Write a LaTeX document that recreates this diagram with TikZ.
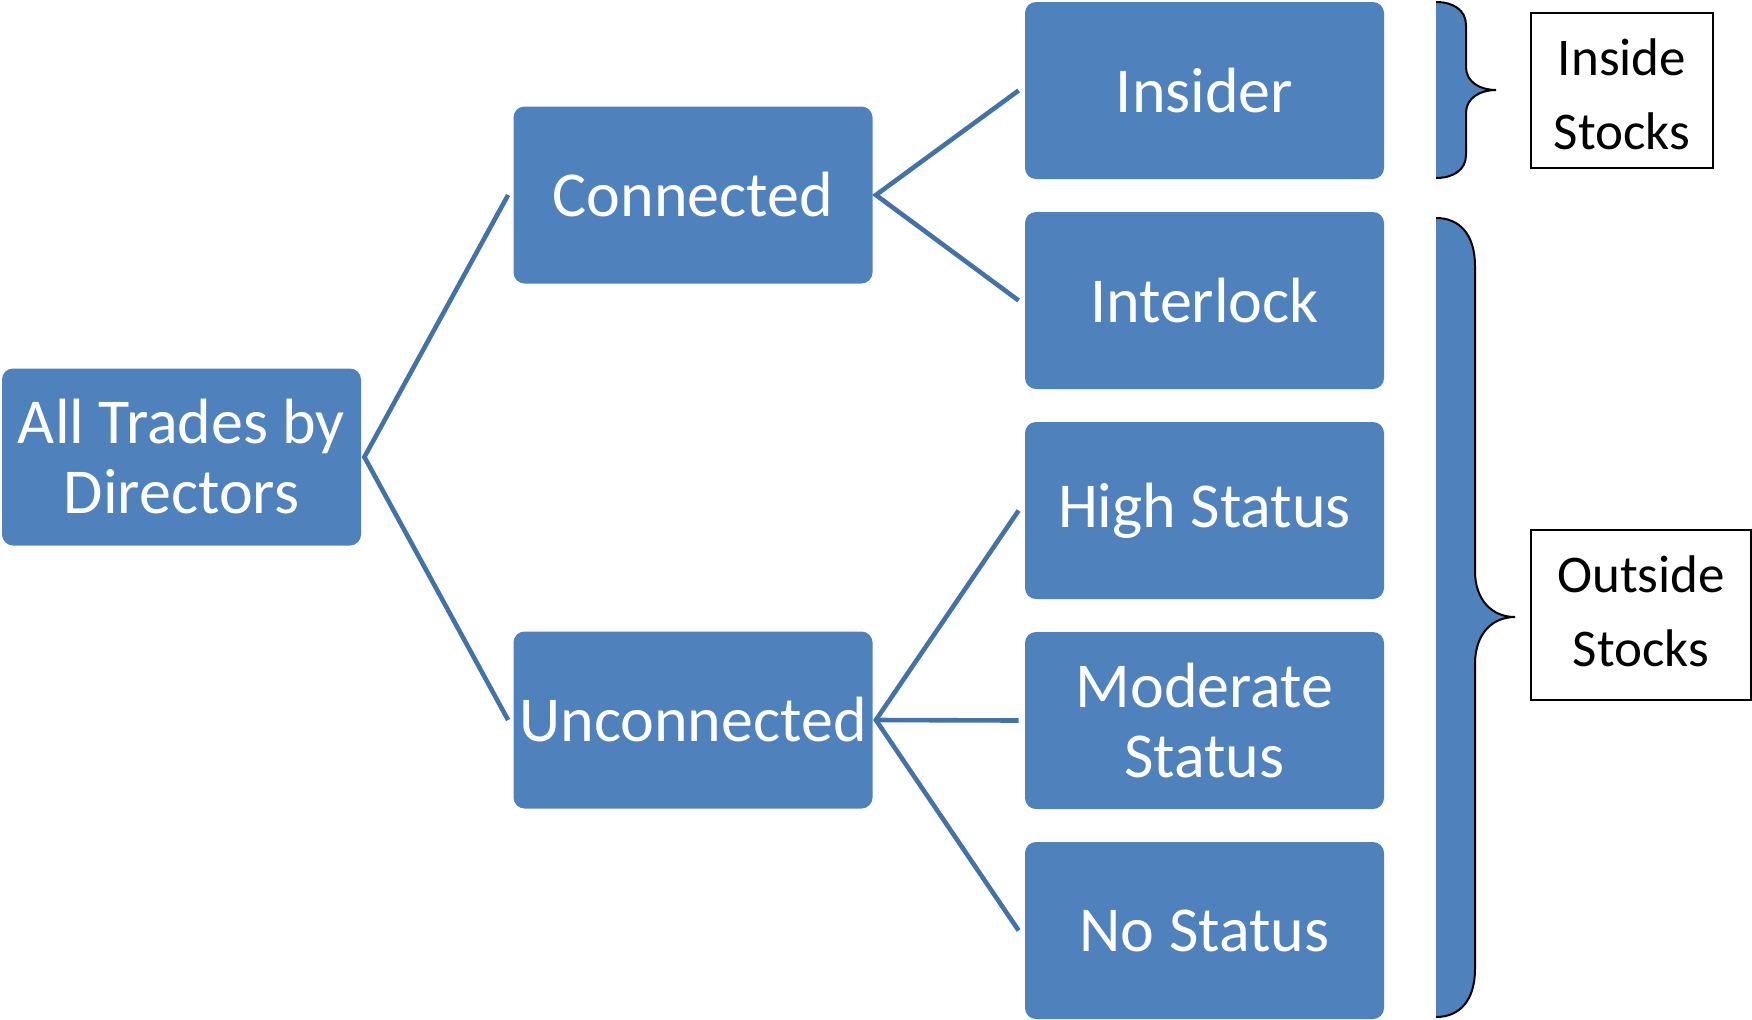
\documentclass[tikz,border=0pt]{standalone}
\usepackage{fontspec}
\setmainfont{Carlito}
\usetikzlibrary{calc}
\definecolor{boxblue}{HTML}{4F81BD}
\definecolor{linkblue}{HTML}{4272A8}
\tikzset{
  box/.style={rectangle, rounded corners=5.5pt, fill=boxblue, draw=none, text=white,
    minimum width=179.5pt, minimum height=88.5pt, align=center, inner sep=0pt,
    font=\fontsize{32}{35}\selectfont},
  link/.style={draw=linkblue, line width=2.3pt},
  label/.style={rectangle, draw=black, line width=0.8pt, align=center, inner sep=0pt,
    font=\fontsize{26.5}{37}\selectfont},
  brace/.style={fill=boxblue, draw=none},
  braceline/.style={draw=black, line width=1pt}
}
\begin{document}
\begin{tikzpicture}[x=0.5pt, y=-0.5pt]
\useasboundingbox (0,0) rectangle (1752,1019);

\node[box] (root) at (181.5,457) {All Trades by\\Directors};
\node[box] (conn) at (693,195) {Connected};
\node[box] (unconn) at (693,720) {Unconnected};
\node[box] (insider) at (1204.5,90.5) {Insider};
\node[box] (interlock) at (1204.5,300.5) {Interlock};
\node[box] (high) at (1204.5,510.5) {High Status};
\node[box] (mod) at (1204.5,720.5) {Moderate\\Status};
\node[box] (nostat) at (1204.5,930.5) {No Status};

\draw[link] ([xshift=-2.5pt]conn.west) -- ([xshift=1.5pt]root.east) -- ([xshift=-2.5pt]unconn.west);
\draw[link] ([xshift=-3pt]insider.west) -- ([xshift=1.5pt]conn.east) -- ([xshift=-3pt]interlock.west);
\draw[link] ([xshift=-3pt]high.west) -- ([xshift=1.5pt]unconn.east) -- ([xshift=-3pt]nostat.west);
\draw[link] ([xshift=1.5pt]unconn.east) -- ([xshift=-3pt]mod.west);

% inside brace
\fill[brace] (1436,2) .. controls (1453,2) and (1466,10) .. (1466,25) -- (1466,67)
  .. controls (1466,82) and (1480,90) .. (1496,90)
  .. controls (1480,90) and (1466,98) .. (1466,113) -- (1466,155)
  .. controls (1466,170) and (1453,178) .. (1436,178) -- cycle;
\draw[braceline] (1436,2) .. controls (1453,2) and (1466,10) .. (1466,25) -- (1466,67)
  .. controls (1466,82) and (1480,90) .. (1496,90)
  .. controls (1480,90) and (1466,98) .. (1466,113) -- (1466,155)
  .. controls (1466,170) and (1453,178) .. (1436,178);

% outside brace
\fill[brace] (1436,218) .. controls (1460,218) and (1475,235) .. (1475,266) -- (1475,571)
  .. controls (1475,600) and (1492,617) .. (1515,617)
  .. controls (1492,617) and (1475,634) .. (1475,664) -- (1475,969)
  .. controls (1475,1000) and (1460,1017) .. (1436,1017) -- cycle;
\draw[braceline] (1436,218) .. controls (1460,218) and (1475,235) .. (1475,266) -- (1475,571)
  .. controls (1475,600) and (1492,617) .. (1515,617)
  .. controls (1492,617) and (1475,634) .. (1475,664) -- (1475,969)
  .. controls (1475,1000) and (1460,1017) .. (1436,1017);

\node[label, minimum width=91pt, minimum height=77.5pt] (inside) at (1622,90.5)
  {\raisebox{-3.4pt}[\height][\depth]{\begin{tabular}{@{}c@{}}Inside\\Stocks\end{tabular}}};
\node[label, minimum width=110pt, minimum height=85pt] (outside) at (1641,615)
  {\begin{tabular}{@{}c@{}}Outside\\Stocks\end{tabular}};
\end{tikzpicture}
\end{document}
